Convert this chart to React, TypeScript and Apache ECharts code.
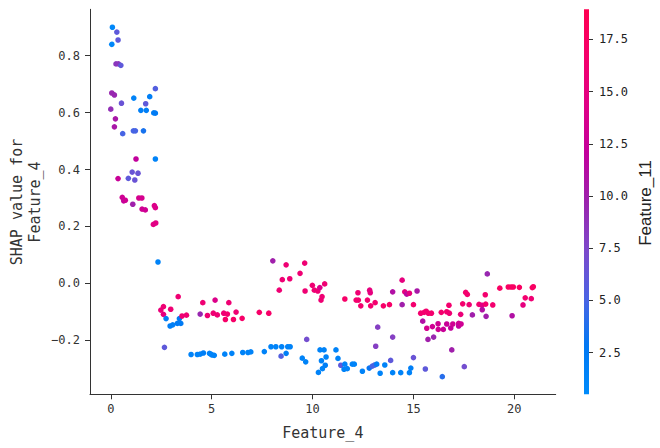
import React, { useEffect, useRef } from "react";
import * as echarts from "echarts";

// Feature_4 values (x)
const feature4 = [
  0.08, 0.3, 0.36, 0.05, 0.26, 0.38, 0.5, 2.21, 0.05, 0.18, 1.14, 1.93, 0.53, 1.73, 0.0, 1.49, 1.76, 2.13, 2.21, 0.23, 0.18, 0.59, 1.12, 1.22, 1.62, 1.25, 2.21, 1.06, 1.35, 0.36, 0.87, 1.19,
  0.57, 0.64, 0.72, 1.09, 1.39, 1.54, 1.55, 1.71, 2.16, 2.21, 2.11, 2.23, 2.34, 3.34, 2.61, 2.48, 2.61, 2.97, 2.74, 2.94, 3.07, 3.3, 3.4, 3.47, 3.53, 3.75, 2.66, 4.43, 4.56, 4.79, 5.17, 5.08, 5.28, 5.6, 5.78, 5.68, 5.85, 6.08, 6.21, 6.51, 7.36, 7.83,
  3.98, 4.29, 4.43, 4.59, 4.89, 4.96, 5.02, 5.13, 5.65, 6.0, 6.54, 6.8, 6.94, 7.61, 7.94,
  8.03, 8.69, 9.61, 9.38, 8.5, 8.87, 8.35, 9.63, 9.99, 10.09, 10.26, 10.36, 10.6, 10.42, 10.47, 11.6, 12.16, 12.27, 12.39, 12.25, 12.72, 12.83, 12.86, 12.88, 13.1, 13.51, 13.81, 13.97, 14.44, 14.44, 14.57, 14.67, 14.8, 15.18, 15.0, 15.36, 15.53, 15.63, 15.74, 15.89, 15.46, 15.66, 15.72, 16.0, 13.23, 13.97, 13.13, 9.71,
  8.18, 8.47, 8.77, 8.89, 8.44, 8.69, 9.49, 9.66, 10.37, 10.57, 11.16, 10.67, 10.44, 11.26, 10.63, 10.49, 10.29, 11.4, 11.6, 11.56, 11.72, 11.97, 12.07, 12.47, 12.81, 12.96, 13.08, 13.18, 13.35, 13.58, 13.87, 13.97, 14.37, 14.8, 14.87, 15.0, 15.59,
  18.66, 15.94, 16.22, 16.23, 16.48, 16.38, 16.65, 16.78, 16.76, 16.65, 16.85, 16.95, 17.24, 17.24, 17.36, 17.34, 17.44, 17.59, 17.67, 17.76, 17.92, 16.9, 17.52, 16.43, 18.25, 18.4, 18.58, 18.41, 18.56, 18.6, 18.93, 19.28, 19.7, 19.84, 19.95, 20.25, 20.89, 20.94, 20.54, 20.84, 20.43, 19.89,
];

// SHAP values for Feature_4 (y)
const shapValues = [
  0.9, 0.883, 0.855, 0.84, 0.771, 0.771, 0.766, 0.684, 0.669, 0.662, 0.651, 0.656, 0.633, 0.631, 0.612, 0.608, 0.608, 0.599, 0.598, 0.578, 0.55, 0.526, 0.536, 0.536, 0.536, 0.437, 0.437, 0.391, 0.387, 0.368, 0.369, 0.363,
  0.302, 0.29, 0.292, 0.278, 0.3, 0.3, 0.261, 0.258, 0.273, 0.266, 0.207, 0.212, 0.075, -0.047, -0.082, -0.094, -0.109, -0.091, -0.124, -0.15, -0.146, -0.141, -0.124, -0.141, -0.115, -0.112, -0.225, -0.108, -0.068, -0.113, -0.059, -0.105, -0.111, -0.105, -0.108, -0.127, -0.068, -0.127, -0.101, -0.123, -0.102, -0.105,
  -0.25, -0.25, -0.249, -0.245, -0.246, -0.249, -0.252, -0.253, -0.249, -0.246, -0.243, -0.243, -0.241, -0.24, -0.223,
  0.079, 0.065, 0.071, 0.035, 0.013, 0.016, -0.024, -0.027, -0.007, -0.024, -0.027, -0.015, -0.002, -0.059, -0.047, -0.055, -0.059, -0.059, -0.079, -0.033, -0.059, -0.024, -0.033, -0.079, -0.068, -0.079, -0.075, -0.03, 0.011, -0.075, -0.03, -0.038, -0.035, -0.027, -0.075, -0.105, -0.102, -0.098, -0.105, -0.105, -0.133, -0.158, -0.197, -0.189, -0.154, -0.189, -0.221, -0.197,
  -0.223, -0.223, -0.223, -0.223, -0.256, -0.246, -0.263, -0.276, -0.234, -0.234, -0.234, -0.259, -0.272, -0.264, -0.288, -0.3, -0.313, -0.288, -0.284, -0.302, -0.3, -0.284, -0.284, -0.309, -0.298, -0.291, -0.287, -0.284, -0.316, -0.287, -0.271, -0.314, -0.314, -0.314, -0.298, -0.261, -0.301,
  0.033, -0.152, -0.142, -0.162, -0.162, -0.102, -0.1, -0.105, -0.077, -0.143, -0.157, -0.143, -0.141, -0.15, -0.143, -0.109, -0.072, -0.032, -0.039, -0.075, -0.111, -0.234, -0.293, -0.328, -0.074, -0.077, -0.073, -0.093, -0.04, -0.116, -0.076, -0.017, -0.013, -0.013, -0.013, -0.014, -0.015, -0.012, -0.051, -0.054, -0.076, -0.114,
];

// Feature_11 values (colour)
const feature11 = [
  1.0, 6.0, 6.0, 1.0, 8.5, 8.5, 6.0, 5.5, 9.5, 9.5, 1.5, 2.0, 6.5, 6.0, 9.0, 2.0, 2.0, 2.0, 2.5, 10.5, 10.5, 5.0, 5.0, 5.0, 3.5, 12.0, 1.5, 6.5, 6.5, 12.5, 6.0, 6.5,
  13, 12, 13, 10, 13.5, 13.5, 13, 13, 14, 14, 14.5, 14.5, 1.5, 16, 16, 15.5, 15, 16, 2, 2, 2, 2.5, 2.5, 2.5, 16, 16, 6, 9.5, 16, 16, 14, 16, 16, 16, 16.5, 17, 16, 17, 16, 17, 17, 17,
  1.5, 1.5, 1.5, 2, 1.5, 1.5, 1.5, 1.5, 1.5, 1.5, 1.5, 1.5, 1.5, 1.5, 1.5,
  10, 16, 16, 16, 16, 16, 16, 16, 16, 16, 16, 14, 16, 16, 16, 17, 16.5, 16.5, 16.5, 16, 16.5, 15, 15, 16.5, 16.5, 17, 17, 11, 15, 10, 15, 11.5, 15, 10.5, 16.5, 16.5, 16.5, 16.5, 16.5, 16.5, 11, 13.5, 10, 9.5, 8, 8, 8, 7,
  1.5, 1.5, 1.5, 1.5, 5.5, 2, 1.5, 1.5, 1.5, 1.5, 1.5, 1.5, 1.5, 1.5, 2, 1.5, 1.5, 6, 1.5, 1.5, 1.5, 1.5, 1.5, 1.5, 3, 5, 5, 2, 1.5, 1.5, 6, 1.5, 1.5, 1.5, 2, 6.5, 6,
  9.5, 13, 13, 13, 12.5, 16.5, 16.5, 16, 16.5, 12.5, 12, 13, 13, 12, 13, 15.5, 16.5, 16.5, 16.5, 16, 10, 10, 7, 4, 16.5, 14.5, 16.5, 11, 16.5, 10, 16.5, 17.5, 17.5, 17.5, 17.5, 17.5, 17.5, 17.5, 16.5, 16, 15, 11,
];

const xTicks = [0, 5, 10, 15, 20];
const yTicks = [-0.2, 0, 0.2, 0.4, 0.6, 0.8];
const cbTicks = [2.5, 5, 7.5, 10, 12.5, 15, 17.5];
const cbMin = 0.5;
const cbMax = 18.94;
const redBlue = ["#008bfb", "#0078f3", "#4b63e3", "#7d49cb", "#9b23ad", "#c2009c", "#e00086", "#f5006c", "#ff0051"];

const MONO = "'DejaVu Sans Mono', 'Liberation Mono', monospace";
const AXIS = "#333333";

export default function App() {
  const ref = useRef<HTMLDivElement>(null);
  useEffect(() => {
    if (!ref.current) return;
    const chart = echarts.init(ref.current, null, { renderer: "svg" });
    const data = feature4.map((x, i) => [x, shapValues[i], feature11[i]]);
    const gradStops = redBlue
      .map((c, i) => ({ offset: 1 - i / (redBlue.length - 1), color: c }))
      .reverse();
    const fmtMinus = (v: number, d: number) => (v < 0 ? "\u2212" + Math.abs(v).toFixed(d) : v.toFixed(d));
    chart.setOption({
      animation: false,
      backgroundColor: "#ffffff",
      grid: [
        { left: 90, top: 9.3, width: 465.7, height: 385 },
        { left: 584, top: 9.3, width: 5, height: 385 },
      ],
      xAxis: [
        {
          type: "value",
          gridIndex: 0,
          min: -1.03,
          max: 22.05,
          splitLine: { show: false },
          axisLine: { onZero: false, lineStyle: { color: AXIS, width: 1 } },
          axisTick: { customValues: xTicks, length: 5, lineStyle: { color: AXIS } },
          axisLabel: { customValues: xTicks, margin: 9, color: AXIS, fontFamily: MONO, fontSize: 12 },
        },
        { type: "value", gridIndex: 1, show: false, min: 0, max: 1 },
      ],
      yAxis: [
        {
          type: "value",
          gridIndex: 0,
          min: -0.39,
          max: 0.963,
          splitLine: { show: false },
          axisLine: { show: true, onZero: false, lineStyle: { color: AXIS, width: 1 } },
          axisTick: { show: true, customValues: yTicks, length: 5, lineStyle: { color: AXIS } },
          axisLabel: {
            customValues: yTicks,
            margin: 10,
            color: AXIS,
            fontFamily: MONO,
            fontSize: 12,
            formatter: (v: number) => fmtMinus(v, 1),
          },
        },
        {
          type: "value",
          gridIndex: 1,
          position: "right",
          min: cbMin,
          max: cbMax,
          splitLine: { show: false },
          axisLine: { show: false, onZero: false },
          axisTick: { show: true, customValues: cbTicks, length: 4, lineStyle: { color: AXIS } },
          axisLabel: {
            customValues: cbTicks,
            margin: 10,
            color: "#222",
            fontFamily: MONO,
            fontSize: 12,
            formatter: (v: number) => v.toFixed(1),
          },
        },
      ],
      visualMap: {
        type: "continuous",
        show: false,
        dimension: 2,
        seriesIndex: 0,
        min: cbMin,
        max: cbMax,
        inRange: { color: redBlue },
      },
      graphic: [
        {
          type: "rect",
          shape: { x: 584, y: 9.3, width: 5, height: 385 },
          style: { fill: new echarts.graphic.LinearGradient(0, 0, 0, 1, gradStops) },
          z: 0,
        },
        {
          type: "text",
          x: 322.8,
          y: 433,
          style: { text: "Feature_4", fill: AXIS, font: `15px ${MONO}`, align: "center", verticalAlign: "middle" },
        },
        {
          type: "text",
          x: 26,
          y: 202,
          rotation: Math.PI / 2,
          style: {
            text: "SHAP value for\nFeature_4",
            fill: AXIS,
            font: `15px ${MONO}`,
            lineHeight: 18,
            align: "center",
            verticalAlign: "middle",
          },
        },
        {
          type: "text",
          x: 645,
          y: 203,
          rotation: Math.PI / 2,
          style: {
            text: "Feature_11",
            fill: "#222",
            font: "17px 'Liberation Sans', Arial, sans-serif",
            align: "center",
            verticalAlign: "middle",
          },
        },
      ],
      series: [
        {
          type: "scatter",
          xAxisIndex: 0,
          yAxisIndex: 0,
          data,
          symbolSize: 5.6,
          itemStyle: { opacity: 1 },
          emphasis: { disabled: true },
        },
      ],
    });
    return () => chart.dispose();
  }, []);
  return <div ref={ref} style={{ position: "fixed", left: 0, top: 0, width: 660, height: 448 }} />;
}
